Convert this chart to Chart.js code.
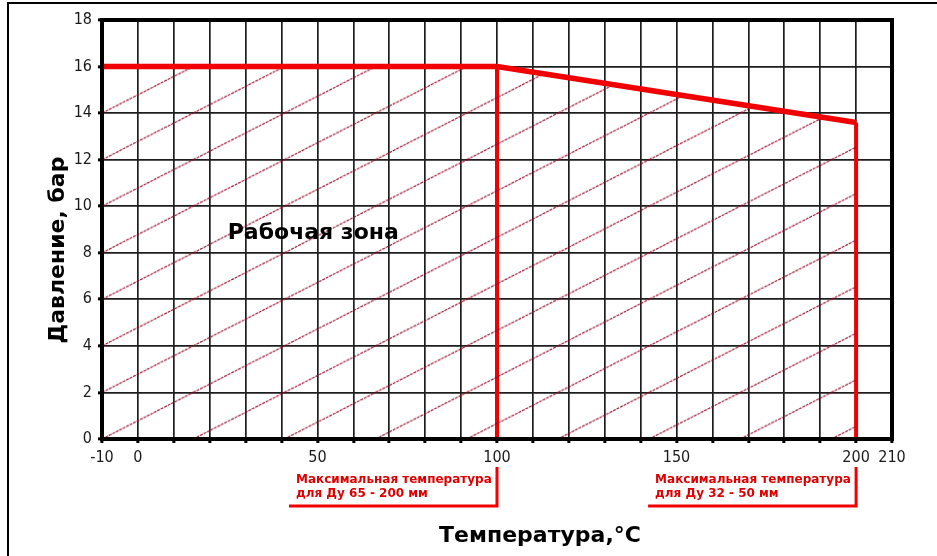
<!DOCTYPE html>
<html lang="ru">
<head>
<meta charset="utf-8">
<title>Рабочая зона</title>
<script src="https://cdn.jsdelivr.net/npm/chart.js@4.4.1/dist/chart.umd.min.js"></script>
<style>
  html, body { margin: 0; padding: 0; background: #fff; }
  #wrap { position: relative; width: 937px; height: 556px; }
  #frame { position: absolute; left: 7px; top: 2px; right: 0; bottom: 0;
           border-top: 2px solid #000; border-left: 2px solid #000; pointer-events: none; }
</style>
</head>
<body>
<div id="wrap">
  <canvas id="chart"></canvas>
  <div id="frame"></div>
</div>
<script>
// граница рабочей зоны: давление (бар) от температуры (°C)
const limitTemp = [-10, 100, 200];
const limitPress = [16, 16, 13.6];

const xTickLabels = [-10, 0, 50, 100, 150, 200, 210];
const yTickLabels = [0, 2, 4, 6, 8, 10, 12, 14, 16, 18];

const noteTemps = [100, 200];
const noteLines = [
  ['Максимальная температура', 'для Ду 65 - 200 мм'],
  ['Максимальная температура', 'для Ду 32 - 50 мм']
];

const RED = '#f00000';
const tickFont = { family: "'Liberation Sans Narrow', 'DejaVu Sans Condensed', sans-serif", size: 16 };

// штриховка под границей
function hatch(chart) {
  const { chartArea, scales } = chart;
  if (!chartArea) return 'transparent';
  const x0 = scales.x.getPixelForValue(limitTemp[0]);
  const y0 = scales.y.getPixelForValue(0);
  const step = y0 - scales.y.getPixelForValue(2);
  const H = 48, W = 94;
  const c = document.createElement('canvas');
  c.width = W; c.height = H;
  const g = c.getContext('2d');
  g.strokeStyle = 'rgba(150,10,40,0.95)';
  g.lineWidth = 1.2;
  g.setLineDash([3, 1]);
  for (let k = -1; k <= 1; k++) {
    g.beginPath();
    g.moveTo(0, H + k * H);
    g.lineTo(W, k * H);
    g.stroke();
  }
  const p = g.createPattern(c, 'repeat');
  const s = step / H;
  p.setTransform(new DOMMatrix([s, 0, 0, s, x0, y0 - step]));
  return p;
}

const decor = {
  id: 'decor',
  afterDatasetsDraw(chart) {
    const { ctx, chartArea: a, scales: { x, y } } = chart;
    ctx.save();
    ctx.strokeStyle = '#000';
    ctx.lineWidth = 4;
    ctx.strokeRect(a.left, a.top, a.right - a.left, a.bottom - a.top);

    ctx.fillStyle = '#000';
    ctx.font = "bold 22px 'DejaVu Sans', sans-serif";
    ctx.textAlign = 'left';
    ctx.textBaseline = 'alphabetic';
    ctx.fillText('Рабочая зона', x.getPixelForValue(25), y.getPixelForValue(8.6));

    // сноски
    noteTemps.forEach((t, i) => {
      const px = x.getPixelForValue(t);
      ctx.strokeStyle = RED;
      ctx.lineWidth = 3;
      ctx.beginPath();
      ctx.moveTo(px, a.bottom + 28);
      ctx.lineTo(px, a.bottom + 67);
      ctx.lineTo(px - 208, a.bottom + 67);
      ctx.stroke();
      ctx.fillStyle = '#dd0000';
      ctx.font = "bold 12px 'DejaVu Sans', sans-serif";
      ctx.fillText(noteLines[i][0], px - 201, a.bottom + 44);
      ctx.fillText(noteLines[i][1], px - 201, a.bottom + 58);
    });
    ctx.restore();
  },
  afterDraw(chart) {
    const { ctx } = chart;
    ctx.save();
    ctx.fillStyle = '#000';
    ctx.font = "bold 22px 'DejaVu Sans', sans-serif";
    ctx.textAlign = 'center';
    ctx.textBaseline = 'middle';
    ctx.fillText('Температура,°C', 540, 536);
    ctx.translate(58, 250);
    ctx.rotate(-Math.PI / 2);
    ctx.fillText('Давление, бар', 0, 0);
    ctx.restore();
  }
};

const boundary = limitTemp.map((t, i) => ({ x: t, y: limitPress[i] }));
const drop1 = [{ x: limitTemp[1], y: 0 }, { x: limitTemp[1], y: limitPress[1] }];
const drop2 = [{ x: limitTemp[2], y: 0 }, { x: limitTemp[2], y: limitPress[2] }];

new Chart(document.getElementById('chart'), {
  type: 'line',
  data: {
    datasets: [
      { data: boundary, borderColor: RED, borderWidth: 5.5, pointRadius: 0,
        fill: 'origin', backgroundColor: ctx => hatch(ctx.chart), tension: 0 },
      { data: drop1, borderColor: RED, borderWidth: 4, pointRadius: 0, fill: false },
      { data: drop2, borderColor: RED, borderWidth: 4, pointRadius: 0, fill: false }
    ]
  },
  options: {
    responsive: true,
    maintainAspectRatio: false,
    animation: false,
    layout: { padding: { top: 20, right: 45, bottom: 0, left: 0 } },
    plugins: { legend: { display: false }, tooltip: { enabled: false } },
    scales: {
      x: {
        type: 'linear', min: -10, max: 210,
        ticks: { stepSize: 10, autoSkip: false, maxRotation: 0, padding: 5, color: '#1a1a1a', font: tickFont,
                 callback: v => xTickLabels.includes(v) ? String(v) : '' },
        grid: { color: '#1e1e1e', lineWidth: 1.7, tickLength: 4, tickColor: '#000', tickWidth: 3 },
        border: { display: false },
        afterFit: s => { s.height = 117; }
      },
      y: {
        min: 0, max: 18,
        ticks: { stepSize: 2, padding: 6, color: '#1a1a1a', font: tickFont,
                 callback: v => yTickLabels.includes(v) ? String(v) : '' },
        grid: { color: '#1e1e1e', lineWidth: 1.7, tickLength: 4, tickColor: '#000', tickWidth: 3 },
        border: { display: false },
        afterFit: s => { s.width = 102; }
      }
    }
  },
  plugins: [decor]
});
</script>
</body>
</html>
